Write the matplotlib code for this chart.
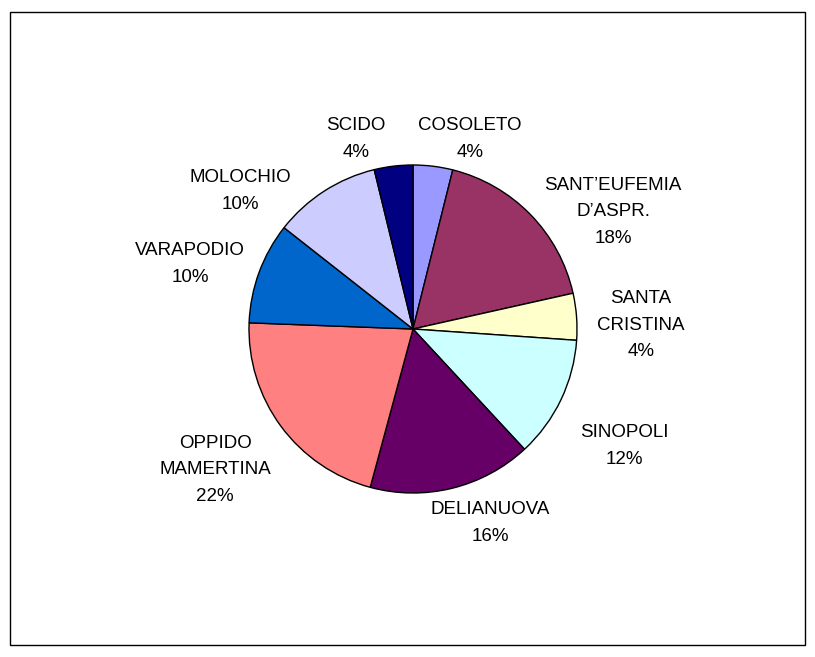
import matplotlib
matplotlib.use('Agg')
import matplotlib.pyplot as plt
from matplotlib.patches import Rectangle

# slice data (clockwise from top)
names = ['COSOLETO', "SANT\u2019EUFEMIA\nD\u2019ASPR.", 'SANTA\nCRISTINA', 'SINOPOLI',
         'DELIANUOVA', 'OPPIDO\nMAMERTINA', 'VARAPODIO', 'MOLOCHIO', 'SCIDO']
values = [3.9, 17.6, 4.6, 12.0, 16.1, 21.4, 10.0, 10.6, 3.8]
pct_labels = ['4%', '18%', '4%', '12%', '16%', '22%', '10%', '10%', '4%']
colors = ['#9999FF', '#993366', '#FFFFCC', '#CCFFFF', '#660066',
          '#FF8080', '#0066CC', '#CCCCFF', '#000080']

# label block centres in pixel coords (from top-left)
label_pos = [(470, 139), (613, 212), (641, 325), (624, 446), (490, 523),
             (215, 470), (190, 264), (240, 191), (356, 139)]

W, H = 815, 657
fig = plt.figure(figsize=(W / 100, H / 100), dpi=100)
ax = fig.add_axes([0, 0, 1, 1])

cx, cy, r = 413, H - 329, 164
ax.pie(values, colors=colors, startangle=90, counterclock=False,
       center=(cx, cy), radius=r, frame=True,
       wedgeprops=dict(edgecolor='black', linewidth=1.0))
ax.set_xlim(0, W)
ax.set_ylim(0, H)
ax.set_aspect('equal')
ax.axis('off')

for name, pct, (x, y) in zip(names, pct_labels, label_pos):
    ax.text(x, H - y, f'{name}\n{pct}', ha='center', va='center',
            fontsize=13.5, family='Liberation Sans', linespacing=1.72,
            color='black')

# outer border
fig.patches.append(Rectangle((10 / W, 1 - 645 / H), 795 / W, 633 / H,
                             transform=fig.transFigure, fill=False,
                             edgecolor='black', linewidth=1.0))

fig.savefig('out.png', dpi=100)
